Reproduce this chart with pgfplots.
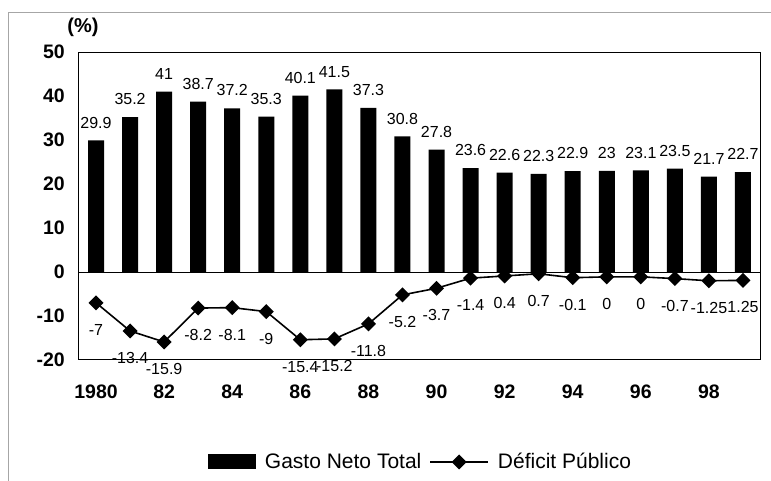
\documentclass[border=0pt]{standalone}
\usepackage{pgfplots}
\usepackage{pgfplotstable}
\pgfplotsset{compat=1.18}
\usepackage{fontspec}
\setmainfont{Liberation Sans}

\pgfplotstableread{
year gasto glabel
1980 29.9 29.9
1981 35.2 35.2
1982 41.0 41
1983 38.7 38.7
1984 37.2 37.2
1985 35.3 35.3
1986 40.1 40.1
1987 41.5 41.5
1988 37.3 37.3
1989 30.8 30.8
1990 27.8 27.8
1991 23.6 23.6
1992 22.6 22.6
1993 22.3 22.3
1994 22.9 22.9
1995 23.0 23
1996 23.1 23.1
1997 23.5 23.5
1998 21.7 21.7
1999 22.7 22.7
}\gastotab

\pgfplotstableread{
year def dlabel
1980 -7.0 -7
1981 -13.4 -13.4
1982 -15.9 -15.9
1983 -8.2 -8.2
1984 -8.1 -8.1
1985 -9.0 -9
1986 -15.4 -15.4
1987 -15.2 -15.2
1988 -11.8 -11.8
1989 -5.2 -5.2
1990 -3.7 -3.7
1991 -1.4 -1.4
1992 -0.9 0.4
1993 -0.4 0.7
1994 -1.3 -0.1
1995 -1.1 0
1996 -1.1 0
1997 -1.5 -0.7
1998 -2.0 -1.25
1999 -1.9 1.25
}\deftab

\begin{document}
\begin{tikzpicture}
\path[use as bounding box] (-79pt,-121pt) rectangle (692pt,360pt);
\draw[gray!70, line width=0.8pt] (-71pt,-121pt) -- (-71pt,348pt) -- (692pt,348pt);
\begin{axis}[
  at={(0pt,0pt)}, anchor=south west,
  scale only axis, width=681pt, height=308pt,
  xmin=1979.5, xmax=1999.5, ymin=-20, ymax=50,
  xtick={1980,1982,...,1998},
  xticklabels={1980,82,84,86,88,90,92,94,96,98},
  ytick={-20,-10,...,50},
  yticklabels={-20,-10,0,10,20,30,40,50},
  major tick length=0pt,
  axis line style={line width=1pt},
  tick label style={font=\fontsize{19.5}{19.5}\selectfont\bfseries},
  yticklabel style={inner sep=0pt, anchor=east, xshift=-14pt},
  xticklabel style={inner sep=0pt, anchor=north, yshift=-25pt},
  clip=false,
  legend columns=2,
  legend style={draw=none, fill=none, at={(0.5,-0.331)}, anchor=center,
    font=\fontsize{21}{21}\selectfont, inner sep=0pt,
    nodes={inner sep=0pt},
    /tikz/every odd column/.append style={column sep=9pt},
    /tikz/every even column/.append style={column sep=8pt}},
]
\draw[black, line width=0.8pt] (axis cs:1979.5,0) -- (axis cs:1999.5,0);
\addplot[ybar, fill=black, draw=none, bar width=16pt,
  nodes near coords, point meta=explicit symbolic,
  nodes near coords style={font=\fontsize{16}{16}\selectfont, anchor=south, inner sep=0pt, yshift=12pt},
  legend image code/.code={\fill[black] (0pt,-7pt) rectangle (48pt,8pt);}]
  table[x=year, y=gasto, meta=glabel]{\gastotab};
\addlegendentry{Gasto Neto Total}
\addplot[black, line width=1.6pt, mark=square*, mark size=4.5pt,
  mark options={rotate=45, solid},
  nodes near coords, point meta=explicit symbolic,
  nodes near coords style={font=\fontsize{16}{16}\selectfont, anchor=center, inner sep=0pt, yshift=-27pt},
  legend image code/.code={\draw[black, line width=1.6pt, mark=square*, mark size=4.5pt, mark options={rotate=45}, mark repeat=2, mark phase=2] plot coordinates {(0pt,0pt) (29pt,0pt) (58pt,0pt)};}]
  table[x=year, y=def, meta=dlabel]{\deftab};
\addlegendentry{Déficit Público}
\node[font=\fontsize{20}{20}\selectfont\bfseries, inner sep=0pt] at ([xshift=4pt, yshift=25pt]rel axis cs:0,1) {(\%)};
\end{axis}
\end{tikzpicture}
\end{document}
